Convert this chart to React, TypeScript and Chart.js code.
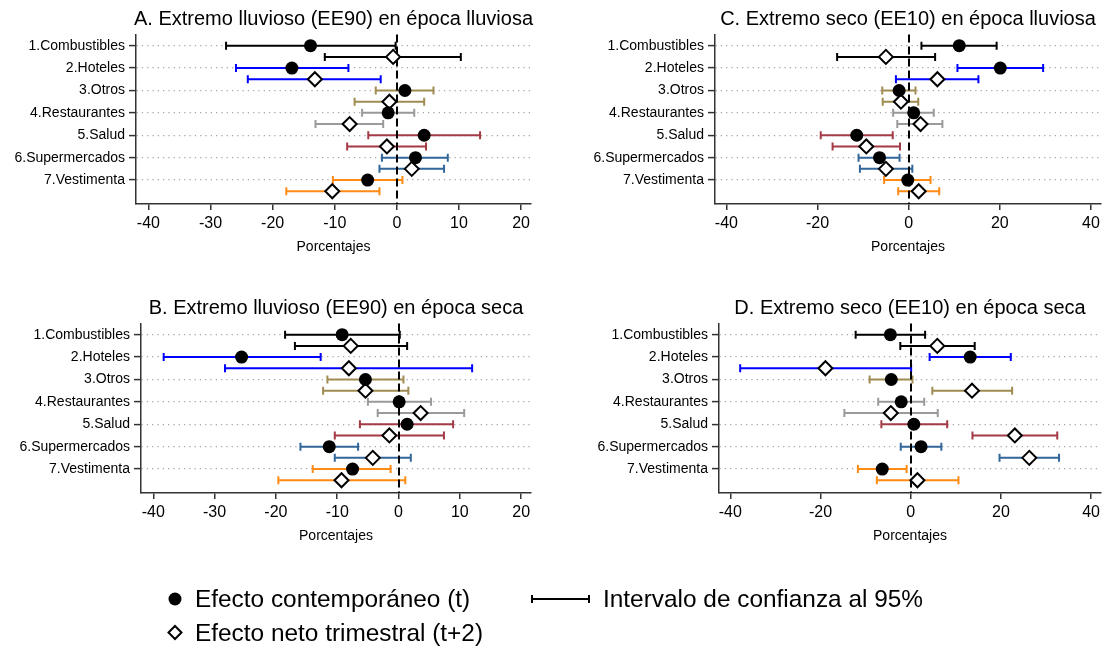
import React, { useEffect, useRef } from "react";
import { Chart, registerables } from "chart.js";

Chart.register(...registerables);

const FONT = '"Liberation Sans", Arial, Helvetica, sans-serif';

const CATEGORIES = [
  "1.Combustibles",
  "2.Hoteles",
  "3.Otros",
  "4.Restaurantes",
  "5.Salud",
  "6.Supermercados",
  "7.Vestimenta",
];
const CATEGORY_COLORS = ["#000000", "#0000ff", "#a08c50", "#9a9a9a", "#a33a45", "#33669a", "#ff8a14"];

const TICKS_EE90 = [-40, -30, -20, -10, 0, 10, 20];
const TICKS_EE10 = [-40, -20, 0, 20, 40];

// A. Extremo lluvioso (EE90) en época lluviosa
const A_T = [-13.9, -16.9, 1.3, -1.4, 4.4, 3.0, -4.7];
const A_T_LO = [-27.5, -25.9, -3.4, -5.6, -4.6, -2.4, -10.3];
const A_T_HI = [-0.2, -7.8, 5.9, 2.8, 13.4, 8.2, 0.9];
const A_NET = [-0.6, -13.2, -1.2, -7.6, -1.6, 2.4, -10.4];
const A_NET_LO = [-11.6, -24.0, -6.8, -13.1, -8.0, -2.8, -17.8];
const A_NET_HI = [10.3, -2.6, 4.4, -2.2, 4.7, 7.6, -2.8];

// B. Extremo lluvioso (EE90) en época seca
const B_T = [-9.2, -25.6, -5.4, 0.1, 1.4, -11.3, -7.5];
const B_T_LO = [-18.5, -38.3, -11.6, -5.0, -6.3, -16.0, -14.0];
const B_T_HI = [0.2, -12.7, 0.8, 5.3, 8.9, -6.6, -1.3];
const B_NET = [-7.8, -8.1, -5.4, 3.6, -1.5, -4.2, -9.3];
const B_NET_LO = [-16.9, -28.3, -12.3, -3.4, -10.4, -10.4, -19.6];
const B_NET_HI = [1.4, 12.0, 1.6, 10.7, 7.4, 2.0, 1.1];

// C. Extremo seco (EE10) en época lluviosa
const C_T = [11.1, 20.1, -2.1, 1.1, -11.4, -6.4, -0.2];
const C_T_LO = [2.8, 10.7, -5.8, -3.4, -19.3, -11.0, -5.4];
const C_T_HI = [19.3, 29.5, 1.5, 5.5, -3.5, -2.0, 4.8];
const C_NET = [-5.0, 6.3, -1.7, 2.6, -9.3, -5.0, 2.2];
const C_NET_LO = [-15.7, -2.8, -5.7, -2.5, -16.7, -10.7, -2.3];
const C_NET_HI = [5.8, 15.3, 2.1, 7.4, -1.9, 0.8, 6.7];

// D. Extremo seco (EE10) en época seca
const D_T = [-4.5, 13.2, -4.3, -2.1, 0.7, 2.3, -6.3];
const D_T_LO = [-12.2, 4.2, -9.1, -7.2, -6.5, -2.2, -11.7];
const D_T_HI = [3.2, 22.2, 0.4, 3.0, 8.1, 6.8, -0.9];
const D_NET = [5.9, -18.9, 13.6, -4.4, 23.1, 26.3, 1.5];
const D_NET_LO = [-2.3, -37.8, 4.8, -14.7, 13.7, 19.7, -7.5];
const D_NET_HI = [14.2, 0.1, 22.5, 6.0, 32.5, 32.9, 10.6];

const PANEL_W = 555;
const PANEL_H = 289;
const PLOT_TOP = 34.5;
const PLOT_BOTTOM = 204;

type PanelProps = {
  title: string;
  est: number[];
  estLo: number[];
  estHi: number[];
  net: number[];
  netLo: number[];
  netHi: number[];
  xMin: number;
  xMax: number;
  xTicks: number[];
  left: number;
  top: number;
  plotLeft: number;
  plotRight: number;
};

function Panel(p: PanelProps) {
  const ref = useRef<HTMLCanvasElement | null>(null);

  useEffect(() => {
    const canvas = ref.current;
    if (!canvas) return;

    const intervals = {
      id: "intervals",
      beforeDatasetsDraw(chart: any) {
        const { ctx, chartArea } = chart;
        const xs = chart.scales.x;
        const ys = chart.scales.y;
        ctx.save();
        const drawBar = (lo: number, hi: number, row: number, color: string) => {
          const x1 = xs.getPixelForValue(lo);
          const x2 = xs.getPixelForValue(hi);
          const yy = ys.getPixelForValue(row);
          ctx.strokeStyle = color;
          ctx.lineWidth = 2;
          ctx.beginPath();
          ctx.moveTo(x1, yy);
          ctx.lineTo(x2, yy);
          ctx.moveTo(x1, yy - 4);
          ctx.lineTo(x1, yy + 4);
          ctx.moveTo(x2, yy - 4);
          ctx.lineTo(x2, yy + 4);
          ctx.stroke();
        };
        CATEGORIES.forEach((_, i) => {
          drawBar(p.estLo[i], p.estHi[i], i + 1, CATEGORY_COLORS[i]);
          drawBar(p.netLo[i], p.netHi[i], i + 1.5, CATEGORY_COLORS[i]);
        });
        // dashed reference line at zero
        const x0 = Math.round(xs.getPixelForValue(0));
        ctx.strokeStyle = "#000";
        ctx.lineWidth = 2;
        ctx.setLineDash([8, 4]);
        ctx.beginPath();
        ctx.moveTo(x0, chartArea.top);
        ctx.lineTo(x0, chartArea.bottom);
        ctx.stroke();
        ctx.restore();
      },
      afterDraw(chart: any) {
        const { ctx, chartArea } = chart;
        const cx = (chartArea.left + chartArea.right) / 2;
        ctx.save();
        ctx.fillStyle = "#000";
        ctx.textAlign = "center";
        ctx.textBaseline = "middle";
        ctx.font = `20px ${FONT}`;
        ctx.fillText(p.title, cx, 19);
        ctx.font = `14px ${FONT}`;
        ctx.fillText("Porcentajes", cx, 247);
        ctx.restore();
      },
    };

    const chart = new Chart(canvas, {
      type: "scatter",
      data: {
        datasets: [
          {
            label: "Efecto contemporáneo (t)",
            data: p.est.map((v, i) => ({ x: v, y: i + 1 })),
            pointStyle: "circle",
            pointRadius: 6.5,
            pointBackgroundColor: "#000",
            pointBorderColor: "#000",
            pointBorderWidth: 0,
          },
          {
            label: "Efecto neto trimestral (t+2)",
            data: p.net.map((v, i) => ({ x: v, y: i + 1.5 })),
            pointStyle: "rectRot",
            pointRadius: 7,
            pointBackgroundColor: "#fff",
            pointBorderColor: "#000",
            pointBorderWidth: 2,
          },
        ],
      },
      options: {
        animation: false,
        responsive: false,
        maintainAspectRatio: false,
        devicePixelRatio: 1,
        events: [],
        layout: {
          padding: { left: 0, top: PLOT_TOP, right: PANEL_W - p.plotRight, bottom: 0 },
        },
        plugins: {
          legend: { display: false },
          tooltip: { enabled: false },
          title: { display: false },
        },
        scales: {
          x: {
            type: "linear",
            min: p.xMin,
            max: p.xMax,
            afterBuildTicks: (s: any) => {
              s.ticks = p.xTicks.map((v) => ({ value: v }));
            },
            afterFit: (s: any) => {
              s.height = PANEL_H - PLOT_BOTTOM;
            },
            ticks: {
              autoSkip: false,
              maxRotation: 0,
              padding: 4,
              color: "#000",
              font: { family: FONT, size: 16 },
              callback: (v: any) => String(v),
            },
            grid: {
              drawOnChartArea: false,
              drawTicks: true,
              tickLength: 6,
              color: "#333",
              lineWidth: 1.5,
            },
            border: { display: true, color: "#333", width: 1.5 },
          },
          y: {
            type: "linear",
            reverse: true,
            min: 0.5,
            max: 8.07,
            afterBuildTicks: (s: any) => {
              s.ticks = CATEGORIES.map((_, i) => ({ value: i + 1 }));
            },
            afterFit: (s: any) => {
              s.width = p.plotLeft;
            },
            ticks: {
              autoSkip: false,
              padding: 4,
              color: "#000",
              font: { family: FONT, size: 14 },
              callback: (v: any) => CATEGORIES[Math.round(Number(v)) - 1] ?? "",
            },
            grid: {
              drawOnChartArea: true,
              drawTicks: true,
              tickLength: 7,
              color: "#a8a8a8",
              lineWidth: 1.2,
              tickColor: "#333",
              tickWidth: 1.5,
            },
            border: { display: true, color: "#333", width: 1.5, dash: [1.3, 4] },
          },
        },
      },
      plugins: [intervals],
    } as any);

    return () => chart.destroy();
  }, []);

  return (
    <canvas
      ref={ref}
      width={PANEL_W}
      height={PANEL_H}
      style={{ position: "absolute", left: p.left, top: p.top, width: PANEL_W, height: PANEL_H }}
    />
  );
}

function Legend() {
  const text: React.CSSProperties = {
    position: "absolute",
    fontFamily: FONT,
    fontSize: 24.4,
    lineHeight: "28px",
    color: "#000",
    whiteSpace: "nowrap",
  };
  return (
    <>
      <svg width={1110} height={648} style={{ position: "absolute", left: 0, top: 0, pointerEvents: "none" }}>
        <circle cx={175} cy={599} r={6.5} fill="#000" />
        <polygon points="175,626 181.5,632.5 175,639 168.5,632.5" fill="#fff" stroke="#000" strokeWidth={2} />
        <g stroke="#000" strokeWidth={2}>
          <line x1={532} y1={599} x2={589} y2={599} />
          <line x1={532} y1={595} x2={532} y2={603} />
          <line x1={589} y1={595} x2={589} y2={603} />
        </g>
      </svg>
      <div style={{ ...text, left: 195, top: 585 }}>Efecto contemporáneo (t)</div>
      <div style={{ ...text, left: 195, top: 619 }}>Efecto neto trimestral (t+2)</div>
      <div style={{ ...text, left: 603, top: 585 }}>Intervalo de confianza al 95%</div>
    </>
  );
}

export default function App() {
  return (
    <div
      style={{
        position: "fixed",
        left: 0,
        top: 0,
        width: 1110,
        height: 648,
        background: "#fff",
        overflow: "hidden",
      }}
    >
      <Panel
        title="A. Extremo lluvioso (EE90) en época lluviosa"
        est={A_T}
        estLo={A_T_LO}
        estHi={A_T_HI}
        net={A_NET}
        netLo={A_NET_LO}
        netHi={A_NET_HI}
        xMin={-42}
        xMax={21.6}
        xTicks={TICKS_EE90}
        left={0}
        top={0}
        plotLeft={136}
        plotRight={531}
      />
      <Panel
        title="C. Extremo seco (EE10) en época lluviosa"
        est={C_T}
        estLo={C_T_LO}
        estHi={C_T_HI}
        net={C_NET}
        netLo={C_NET_LO}
        netHi={C_NET_HI}
        xMin={-42.5}
        xMax={42.2}
        xTicks={TICKS_EE10}
        left={555}
        top={0}
        plotLeft={160}
        plotRight={549}
      />
      <Panel
        title="B. Extremo lluvioso (EE90) en época seca"
        est={B_T}
        estLo={B_T_LO}
        estHi={B_T_HI}
        net={B_NET}
        netLo={B_NET_LO}
        netHi={B_NET_HI}
        xMin={-42}
        xMax={21.6}
        xTicks={TICKS_EE90}
        left={0}
        top={289}
        plotLeft={141}
        plotRight={531}
      />
      <Panel
        title="D. Extremo seco (EE10) en época seca"
        est={D_T}
        estLo={D_T_LO}
        estHi={D_T_HI}
        net={D_NET}
        netLo={D_NET_LO}
        netHi={D_NET_HI}
        xMin={-42.5}
        xMax={42.2}
        xTicks={TICKS_EE10}
        left={555}
        top={289}
        plotLeft={164}
        plotRight={549}
      />
      <Legend />
    </div>
  );
}
